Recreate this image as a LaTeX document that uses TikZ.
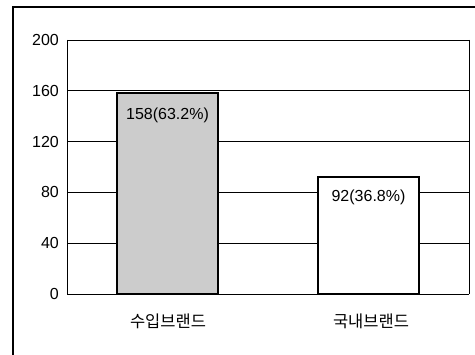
\documentclass[tikz,border=0pt]{standalone}
\usepackage{fontspec}
\setmainfont{Liberation Sans}
\newfontfamily\kr{Noto Sans CJK KR}

\begin{document}
\begin{tikzpicture}[
  x=1pt, y=-1pt, % 1 unit = 1 pixel, y grows downwards
  grid/.style={line width=0.8pt},
  frame/.style={line width=1.3pt},
  bar/.style={draw, line width=1.8pt},
  every node/.style={inner sep=0pt, font=\fontsize{16}{16}\selectfont},
  ticklabel/.style={anchor=east},
  catlabel/.style={font=\kr\fontsize{16.5}{17}\selectfont},
  ]

\useasboundingbox (0,0) rectangle (475,355);

% outer frame
\draw[frame] (13,355) -- (13,7) -- (475,7);

% grid lines and axis labels
\foreach \v in {0,40,...,200}
{
  \draw[grid] (67,{294-\v*1.27}) -- (469,{294-\v*1.27});
  \node[ticklabel] (t\v) at (59,{294-\v*1.27}) {\v};
}
\draw[grid] (67,40) -- (67,294);
\draw[grid] (469,40) -- (469,294);

% bars
\draw[bar, fill=gray!40] (117,294) rectangle (218,{294-158*1.27});
\draw[bar, fill=white] (318,294) rectangle (419,{294-92*1.27});

% values
\node (v1) at (167.5,115) {158(63.2\%)};
\node (v2) at (368.5,197) {92(36.8\%)};

% categories
\node[catlabel] (c1) at (168,321) {수입브랜드};
\node[catlabel] (c2) at (371,321) {국내브랜드};

\end{tikzpicture}
\end{document}
